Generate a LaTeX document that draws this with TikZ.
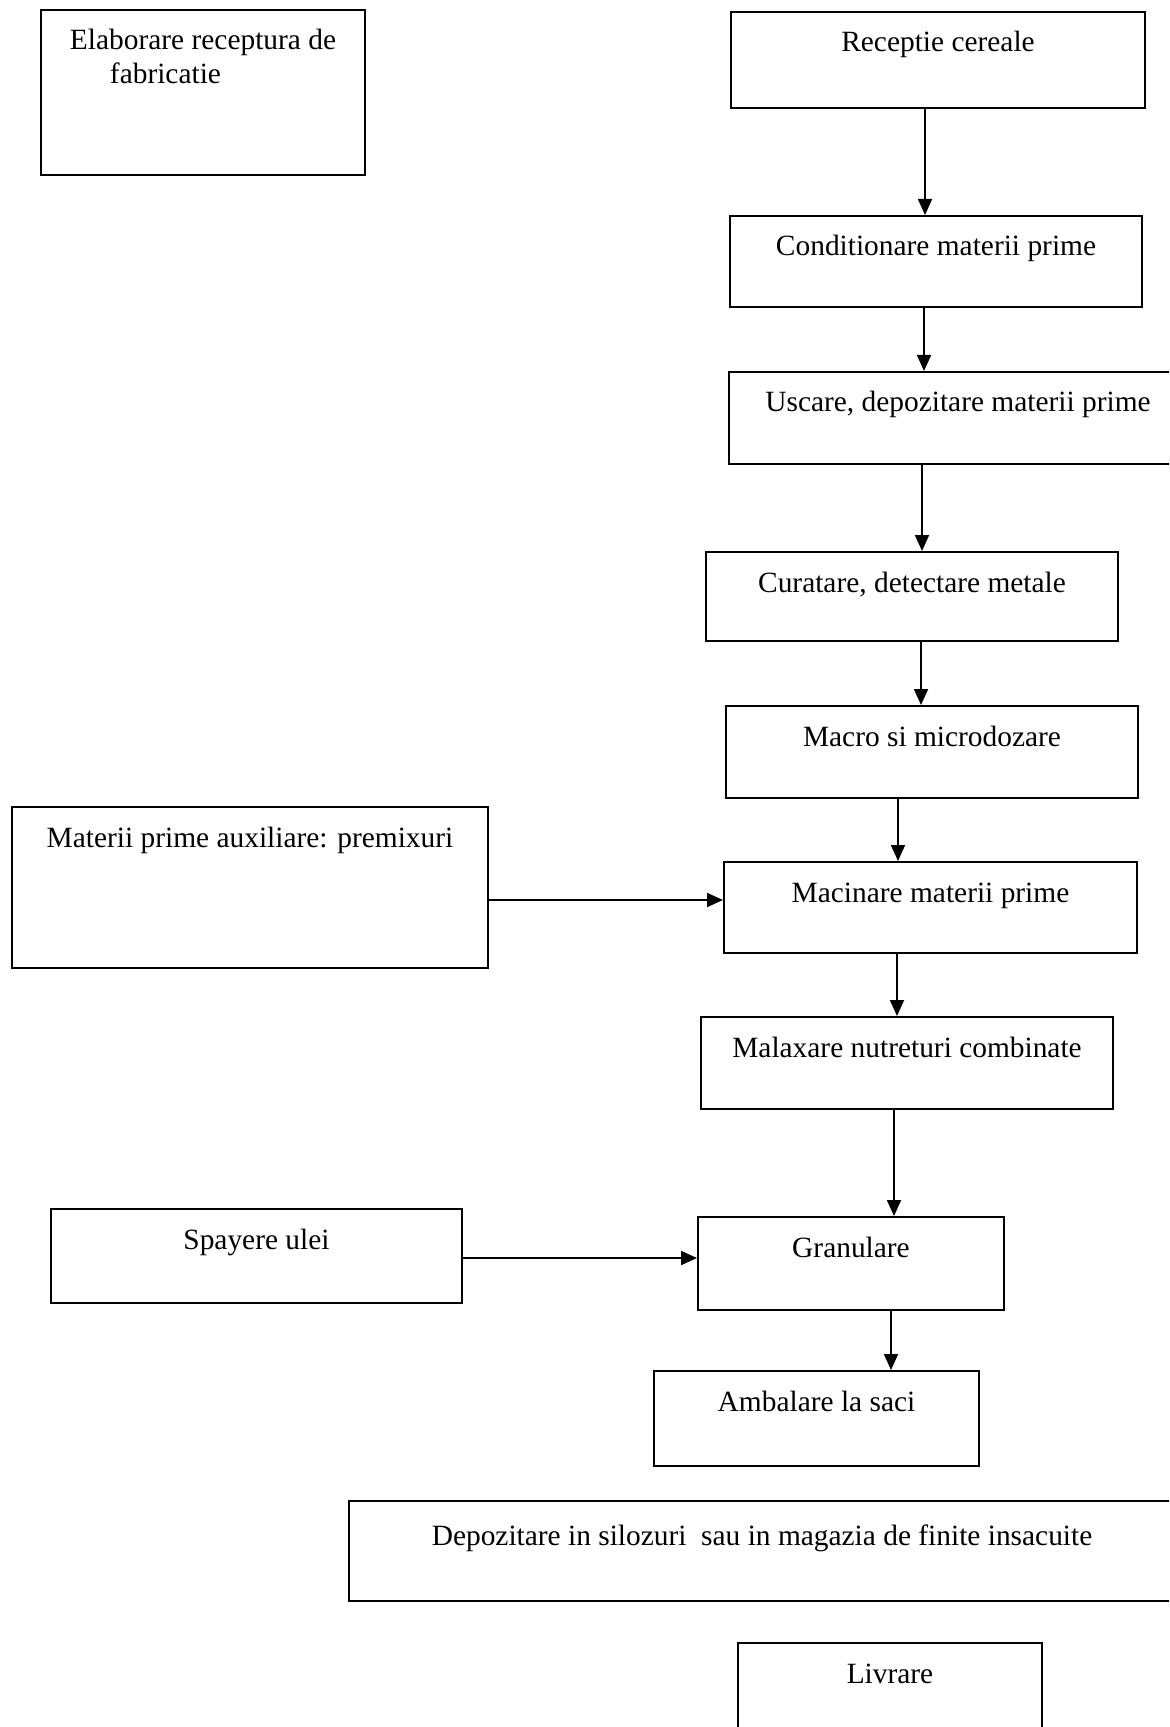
\documentclass[tikz,border=0pt]{standalone}
\usepackage{fontspec}
\setmainfont{Liberation Serif}
\usetikzlibrary{arrows.meta}

\begin{document}
\begin{tikzpicture}[x=0.5pt,y=-0.5pt]
\tikzset{stage/.style={draw,line width=1pt,anchor=north west,inner sep=0pt,text height=20pt,font=\fontsize{14.7}{17}\selectfont},
  flow/.style={line width=0.9pt,-{Triangle[length=8pt,width=7pt]}}}
\useasboundingbox (0,0) rectangle (1169,1727);
\clip (0,0) rectangle (1169,1727);
\node[stage,align=left,minimum width=162pt,text height=37pt,text depth=45.5pt] (elab) at (40,9) {Elaborare receptura de\\\hspace*{20pt}fabricatie};
\node[stage,minimum width=207pt,text depth=28pt] (rec) at (730,11) {Receptie cereale};
\node[stage,minimum width=206pt,text depth=25.5pt] (cond) at (729,215) {Conditionare materii prime};
\node[stage,minimum width=229pt,text depth=26pt] (usc) at (728,371) {Uscare, depozitare materii prime};
\node[stage,minimum width=206pt,text depth=24.5pt] (cur) at (705,551) {Curatare, detectare metale};
\node[stage,minimum width=206pt,text depth=26pt] (macro) at (725,705) {Macro si microdozare};
\node[stage,minimum width=238pt,text depth=60.5pt] (aux) at (11,806) {Materii prime auxiliare: premixuri};
\node[stage,minimum width=206.5pt,text depth=25.5pt] (macin) at (723,861) {Macinare materii prime};
\node[stage,minimum width=206pt,text depth=26pt] (malax) at (700,1016) {Malaxare nutreturi combinate};
\node[stage,minimum width=205.5pt,text depth=27pt] (spay) at (50,1208) {Spayere ulei};
\node[stage,minimum width=153pt,text depth=26.5pt] (gran) at (697,1216) {Granulare};
\node[stage,minimum width=162.5pt,text depth=27.5pt] (amb) at (653,1370) {Ambalare la saci};
\node[stage,minimum width=413pt,text height=22pt,text depth=28pt] (depoz) at (348,1500) {Depozitare in silozuri\ \ sau in magazia de finite insacuite};
\node[stage,minimum width=152pt,text depth=35pt] (livr) at (737,1642) {Livrare};
\draw[flow] (rec.south -| 925,0) -- (cond.north -| 925,0);
\draw[flow] (cond.south -| 924,0) -- (usc.north -| 924,0);
\draw[flow] (usc.south -| 922,0) -- (cur.north -| 922,0);
\draw[flow] (cur.south -| 921,0) -- (macro.north -| 921,0);
\draw[flow] (macro.south -| 898,0) -- (macin.north -| 898,0);
\draw[flow] (macin.south -| 897,0) -- (malax.north -| 897,0);
\draw[flow] (malax.south -| 894,0) -- (gran.north -| 894,0);
\draw[flow] (gran.south -| 891,0) -- (amb.north -| 891,0);
\draw[flow] (aux.east |- 0,900) -- (macin.west |- 0,900);
\draw[flow] (spay.east |- 0,1258) -- (gran.west |- 0,1258);
\end{tikzpicture}
\end{document}
